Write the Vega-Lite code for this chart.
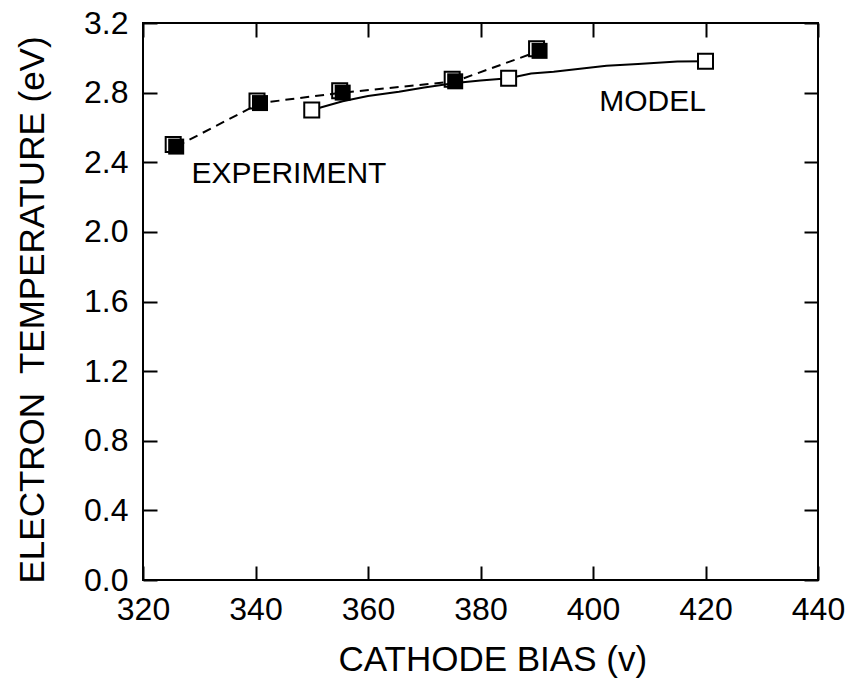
{
  "$schema": "https://vega.github.io/schema/vega-lite/v6.json",
  "width": 675,
  "height": 557,
  "autosize": "none",
  "padding": {"left": 143, "top": 23, "right": 41, "bottom": 99},
  "background": "white",
  "config": {
    "view": {"stroke": "black", "strokeWidth": 2},
    "font": "Liberation Sans",
    "axis": {
      "grid": false,
      "domain": false,
      "tickColor": "black",
      "tickWidth": 2,
      "tickSize": 14,
      "offset": -14,
      "labelFont": "Liberation Sans",
      "labelFontSize": 32,
      "labelColor": "black",
      "labelFlush": false,
      "labelOverlap": false,
      "labelBound": false,
      "titleFont": "Liberation Sans",
      "titleFontSize": 35,
      "titleFontWeight": "normal",
      "titleColor": "black"
    }
  },
  "datasets": {
    "experiment": [
      {"bias": 325.9, "temp": 2.49},
      {"bias": 340.8, "temp": 2.74},
      {"bias": 355.5, "temp": 2.8},
      {"bias": 375.5, "temp": 2.865},
      {"bias": 390.5, "temp": 3.04}
    ],
    "model_curve": [
      {"bias": 350, "temp": 2.7},
      {"bias": 355.5, "temp": 2.75},
      {"bias": 360, "temp": 2.78},
      {"bias": 365.5, "temp": 2.805},
      {"bias": 370, "temp": 2.83},
      {"bias": 375.5, "temp": 2.855},
      {"bias": 380, "temp": 2.87},
      {"bias": 385, "temp": 2.883},
      {"bias": 389, "temp": 2.91},
      {"bias": 393, "temp": 2.92},
      {"bias": 397.7, "temp": 2.937},
      {"bias": 402.4, "temp": 2.954},
      {"bias": 408, "temp": 2.965},
      {"bias": 415, "temp": 2.979},
      {"bias": 420, "temp": 2.98}
    ],
    "model_points": [
      {"bias": 350, "temp": 2.7},
      {"bias": 385, "temp": 2.883},
      {"bias": 420, "temp": 2.98}
    ],
    "labels": [
      {"bias": 328.6, "temp": 2.279, "label": "EXPERIMENT"},
      {"bias": 401.1, "temp": 2.694, "label": "MODEL"}
    ]
  },
  "layer": [
    {
      "data": {"name": "model_curve"},
      "mark": {"type": "line", "color": "black", "strokeWidth": 2},
      "encoding": {
        "x": {
          "field": "bias", "type": "quantitative",
          "scale": {"domain": [320, 440], "nice": false, "zero": false},
          "axis": {
            "values": [320, 340, 360, 380, 400, 420, 440],
            "title": "CATHODE BIAS (v)",
            "labelPadding": 14,
            "titleX": 195,
            "titleY": 104,
            "titleAlign": "left",
            "titleBaseline": "alphabetic"
          }
        },
        "y": {
          "field": "temp", "type": "quantitative",
          "scale": {"domain": [0, 3.2], "nice": false, "zero": false},
          "axis": {
            "values": [0, 0.4, 0.8, 1.2, 1.6, 2.0, 2.4, 2.8, 3.2],
            "format": ".1f",
            "title": "ELECTRON\u00a0 TEMPERATURE (eV)",
            "labelPadding": 15,
            "titleAngle": -90,
            "titleX": -114,
            "titleY": 560,
            "titleAlign": "left",
            "titleBaseline": "alphabetic"
          }
        }
      }
    },
    {
      "data": {"name": "experiment"},
      "mark": {"type": "line", "color": "black", "strokeWidth": 2, "strokeDash": [9, 6]},
      "encoding": {
        "x": {"field": "bias", "type": "quantitative", "axis": null},
        "y": {"field": "temp", "type": "quantitative", "axis": null}
      }
    },
    {
      "data": {"name": "experiment"},
      "mark": {"type": "point", "shape": "square", "filled": false, "color": "black", "strokeWidth": 2, "size": 225, "opacity": 1, "xOffset": -3, "yOffset": -2},
      "encoding": {
        "x": {"field": "bias", "type": "quantitative", "axis": null},
        "y": {"field": "temp", "type": "quantitative", "axis": null}
      }
    },
    {
      "data": {"name": "experiment"},
      "mark": {"type": "point", "shape": "square", "filled": true, "color": "black", "size": 256, "opacity": 1},
      "encoding": {
        "x": {"field": "bias", "type": "quantitative", "axis": null},
        "y": {"field": "temp", "type": "quantitative", "axis": null}
      }
    },
    {
      "data": {"name": "model_points"},
      "mark": {"type": "point", "shape": "square", "filled": false, "fill": "white", "fillOpacity": 1, "stroke": "black", "strokeWidth": 2, "size": 225, "opacity": 1},
      "encoding": {
        "x": {"field": "bias", "type": "quantitative", "axis": null},
        "y": {"field": "temp", "type": "quantitative", "axis": null}
      }
    },
    {
      "data": {"name": "labels"},
      "mark": {"type": "text", "align": "left", "baseline": "alphabetic", "fontSize": 30, "font": "Liberation Sans", "color": "black"},
      "encoding": {
        "x": {"field": "bias", "type": "quantitative", "axis": null},
        "y": {"field": "temp", "type": "quantitative", "axis": null},
        "text": {"field": "label"}
      }
    },
    {
      "data": {"name": "model_points"},
      "mark": {"type": "point", "opacity": 0},
      "encoding": {
        "x": {
          "field": "bias", "type": "quantitative",
          "axis": {"orient": "top", "values": [320, 340, 360, 380, 400, 420, 440], "labels": false, "title": null}
        },
        "y": {
          "field": "temp", "type": "quantitative",
          "axis": {"orient": "right", "values": [0, 0.4, 0.8, 1.2, 1.6, 2.0, 2.4, 2.8, 3.2], "labels": false, "title": null}
        }
      }
    }
  ],
  "resolve": {"axis": {"x": "independent", "y": "independent"}}
}
